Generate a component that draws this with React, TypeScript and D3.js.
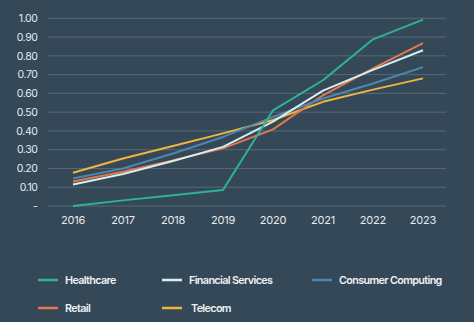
import React from "react";
import * as d3 from "d3";

const years = ["2016", "2017", "2018", "2019", "2020", "2021", "2022", "2023"];
const healthcare = [0, 0.03, 0.057, 0.085, 0.51, 0.67, 0.888, 0.993];
const financialServices = [0.115, 0.17, 0.24, 0.315, 0.45, 0.615, 0.725, 0.83];
const consumerComputing = [0.147, 0.2, 0.28, 0.368, 0.475, 0.573, 0.653, 0.74];
const retail = [0.13, 0.183, 0.243, 0.307, 0.408, 0.59, 0.733, 0.868];
const telecom = [0.177, 0.253, 0.32, 0.387, 0.458, 0.555, 0.62, 0.68];
const yTicks = [0, 0.1, 0.2, 0.3, 0.4, 0.5, 0.6, 0.7, 0.8, 0.9, 1.0];

const seriesNames = ["Healthcare", "Financial Services", "Consumer Computing", "Retail", "Telecom"];
const seriesValues = [healthcare, financialServices, consumerComputing, retail, telecom];
const seriesColors = ["#2fb29a", "#d6eef0", "#4f86ad", "#e4784d", "#f0b443"];

const W = 474;
const H = 322;
const FONT = "Inter, 'Liberation Sans', Arial, sans-serif";

export default function App() {
  const x = d3.scalePoint<string>().domain(years).range([73, 423]);
  const y = d3.scaleLinear().domain([0, 1]).range([206, 18.3]);
  const line = d3
    .line<number>()
    .x((_, i) => x(years[i]) as number)
    .y((d) => y(d));

  const legendPos = [
    [38, 280],
    [162, 280],
    [312, 280],
    [38, 308],
    [162, 308],
  ];

  const drawOrder = [4, 3, 2, 1, 0];

  return (
    <svg
      width={W}
      height={H}
      style={{ position: "absolute", left: 0, top: 0, display: "block" }}
      fontFamily={FONT}
    >
      <rect x={0} y={0} width={W} height={H} fill="#354857" />
      {yTicks.map((t) => (
        <g key={t}>
          <line x1={48} x2={446} y1={y(t)} y2={y(t)} stroke="#56697a" strokeWidth={1} />
          <text
            x={37.5}
            y={y(t)}
            dy="0.35em"
            textAnchor="end"
            fontSize={10.5}
            fill="#e6ebef"
            letterSpacing={-0.4}
          >
            {t === 0 ? "-" : d3.format(".2f")(t)}
          </text>
        </g>
      ))}
      {years.map((yr) => (
        <text
          key={yr}
          x={x(yr) as number}
          y={220}
          dy="0.35em"
          textAnchor="middle"
          fontSize={11}
          fill="#e6ebef"
          letterSpacing={-0.2}
        >
          {yr}
        </text>
      ))}
      {drawOrder.map((i) => (
        <path
          key={seriesNames[i]}
          d={line(seriesValues[i]) as string}
          fill="none"
          stroke={seriesColors[i]}
          strokeWidth={2}
          strokeLinejoin="round"
        />
      ))}
      {seriesNames.map((name, i) => (
        <g key={name} transform={`translate(${legendPos[i][0]},${legendPos[i][1]})`}>
          <line x1={0} x2={20} y1={0} y2={0} stroke={seriesColors[i]} strokeWidth={2.5} />
          <text
            x={i === 4 ? 29 : 27}
            y={0}
            dy="0.35em"
            fontSize={10.8}
            fontWeight={600}
            fill="#eef2f5"
            letterSpacing={-0.65}
          >
            {name}
          </text>
        </g>
      ))}
    </svg>
  );
}
